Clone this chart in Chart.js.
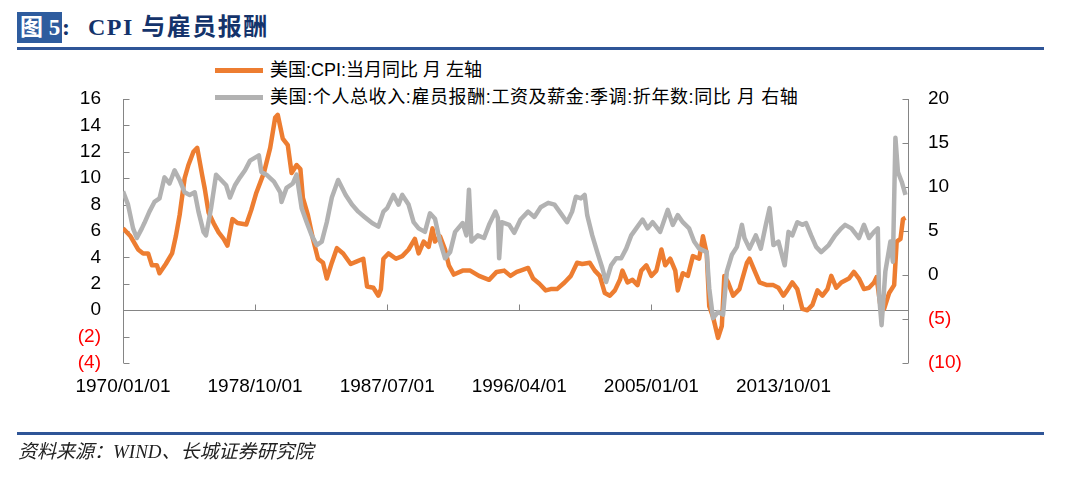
<!DOCTYPE html>
<html>
<head>
<meta charset="utf-8">
<script src="https://cdn.jsdelivr.net/npm/chart.js@4.4.0/dist/chart.umd.min.js"></script>
<style>
  body { margin: 0; background: #fff; width: 1080px; height: 480px; overflow: hidden; position: relative;
         font-family: "Liberation Sans", "Noto Sans CJK SC", sans-serif; }
  #chart { position: absolute; left: 0; top: 0; }
  .rule { position: absolute; left: 17px; width: 1027px; background: #2F5597; }
  .tag { position: absolute; left: 17px; top: 12px; width: 45px; height: 31px; background: #2E5C9E; }
  .title { position: absolute; top: 12px; height: 31px; line-height: 31px; font-family: "Liberation Serif", "Noto Sans CJK SC", serif;
           font-weight: bold; font-size: 24px; white-space: nowrap; }
  .leg-line { position: absolute; left: 215px; width: 48px; height: 5px; }
  .leg-text { position: absolute; left: 270px; font-size: 18px; line-height: 22px; color: #000; white-space: nowrap; }
  .source { position: absolute; left: 18px; top: 436px; font-family: "Liberation Serif", "Noto Sans CJK SC", serif;
            font-style: italic; font-size: 19px; color: #222; white-space: nowrap; }
</style>
</head>
<body>
<div class="tag"></div>
<div class="title" style="left:20px;color:#fff;font-size:23px;">图 5</div>
<div class="title" style="left:62px;color:#14336B;">:</div>
<div class="title" style="left:88px;color:#14336B;letter-spacing:1.5px;">CPI 与雇员报酬</div>
<div class="rule" style="top:47px;height:3px;"></div>

<div class="leg-line" style="top:68px;background:#ED7D31;"></div>
<div class="leg-text" style="top:59px;">美国:CPI:当月同比 月 左轴</div>
<div class="leg-line" style="top:95px;background:#B2B2B2;"></div>
<div class="leg-text" style="top:86px;letter-spacing:0.6px;">美国:个人总收入:雇员报酬:工资及薪金:季调:折年数:同比 月 右轴</div>

<canvas id="chart" width="1080" height="480"></canvas>

<div class="rule" style="top:432px;height:3px;"></div>
<div class="source">资料来源：WIND、长城证券研究院</div>

<script>
// ---- data ----
const cpiLabel = '美国:CPI:当月同比 月 左轴';
const wageLabel = '美国:个人总收入:雇员报酬:工资及薪金:季调:折年数:同比 月 右轴';

const xTickLabels = ['1970/01/01', '1978/10/01', '1987/07/01', '1996/04/01', '2005/01/01', '2013/10/01'];
const leftTicks = [-4, -2, 0, 2, 4, 6, 8, 10, 12, 14, 16];
const rightTicks = [-10, -5, 0, 5, 10, 15, 20];

// CPI yoy, left axis
const cpiDates = [
  '1970-01','1970-07','1971-01','1971-05','1971-09','1971-12','1972-04','1972-06','1972-11','1973-04',
  '1973-07','1973-10','1974-02','1974-05','1974-09','1974-12','1975-04','1975-06','1975-09','1976-01',
  '1976-05','1976-09','1976-12','1977-04','1977-08','1978-03','1978-07','1978-11','1979-05','1979-10',
  '1980-02','1980-04','1980-08','1980-12','1981-03','1981-07','1981-10','1981-12','1982-04','1982-08',
  '1982-12','1983-04','1983-07','1983-11','1984-03','1984-08','1985-02','1985-07','1985-12','1986-03',
  '1986-08','1986-12','1987-02','1987-04','1987-08','1988-02','1988-07','1988-12','1989-05','1989-08',
  '1989-12','1990-04','1990-07','1990-09','1991-01','1991-05','1991-08','1991-12','1992-07','1993-01',
  '1993-08','1994-04','1994-10','1995-04','1995-09','1996-02','1996-05','1996-11','1997-03','1997-08',
  '1998-01','1998-05','1998-10','1999-04','1999-09','2000-02','2000-06','2000-12','2001-04','2001-08',
  '2001-12','2002-04','2002-08','2002-12','2003-02','2003-06','2003-10','2004-02','2004-05','2004-09',
  '2005-01','2005-05','2005-09','2005-12','2006-04','2006-08','2006-10','2007-02','2007-06','2007-10',
  '2008-03','2008-06','2008-09','2008-11','2009-02','2009-06','2009-09','2009-11','2010-02','2010-06',
  '2010-11','2011-05','2011-07','2011-11','2012-03','2012-09','2013-02','2013-06','2013-10','2014-01',
  '2014-05','2014-09','2015-01','2015-05','2015-09','2016-01','2016-05','2016-09','2016-12','2017-04',
  '2017-08','2018-02','2018-06','2018-10','2019-02','2019-06','2019-10','2019-12','2020-03','2020-06',
  '2020-10','2021-02','2021-04','2021-07','2021-09','2021-11'
];
const cpiValues = [
  6.2, 5.6, 4.6, 4.3, 4.3, 3.4, 3.4, 2.8, 3.5, 4.3,
  5.6, 7.2, 10.0, 11.0, 12.0, 12.3, 10.2, 9.2, 7.4, 6.6,
  5.9, 5.4, 4.9, 6.9, 6.6, 6.5, 7.6, 8.9, 10.4, 12.3,
  14.6, 14.8, 13.0, 12.5, 10.4, 11.0, 10.7, 8.5, 7.2, 5.4,
  3.9, 3.6, 2.4, 3.6, 4.7, 4.3, 3.5, 3.7, 3.9, 1.8,
  1.7, 1.1, 1.6, 3.9, 4.3, 3.9, 4.1, 4.6, 5.4, 4.3,
  5.2, 4.8, 6.2, 5.2, 5.6, 4.6, 3.4, 2.7, 3.0, 3.0,
  2.6, 2.3, 2.9, 3.0, 2.6, 2.9, 3.0, 3.2, 2.4, 2.0,
  1.5, 1.6, 1.6, 2.1, 2.6, 3.6, 3.5, 3.6, 3.0, 2.6,
  1.3, 1.1, 1.5, 2.3, 3.0, 2.1, 2.3, 1.9, 3.0, 3.4,
  2.6, 3.0, 4.6, 3.4, 3.9, 3.0, 1.5, 2.8, 2.6, 4.1,
  3.9, 5.6, 4.3, 0.3, -0.5, -2.1, -1.2, 2.6, 2.1, 1.1,
  1.6, 3.6, 3.9, 3.0, 2.1, 1.9, 1.9, 1.7, 1.1, 1.5,
  2.1, 1.6, 0.1, 0.0, 0.4, 1.5, 1.1, 1.6, 2.6, 1.7,
  2.1, 2.4, 2.9, 2.4, 1.6, 1.7, 2.1, 2.5, 0.4, 0.1,
  1.3, 1.9, 5.2, 5.4, 6.9, 7.0
];

// wages & salaries yoy, right axis
const wageDates = [
  '1970-01','1970-05','1970-09','1970-12','1971-04','1971-06','1971-10','1972-02','1972-06','1972-10',
  '1973-02','1973-06','1973-10','1974-02','1974-06','1974-10','1975-01','1975-05','1975-07','1975-11',
  '1976-03','1976-07','1976-11','1977-02','1977-06','1977-10','1978-02','1978-06','1979-01','1979-03',
  '1979-07','1980-01','1980-06','1980-07','1980-11','1981-04','1981-07','1981-11','1982-03','1982-07',
  '1982-11','1983-03','1983-07','1983-11','1984-04','1984-10','1985-03','1985-08','1986-01','1986-07',
  '1986-12','1987-04','1987-07','1987-12','1988-04','1988-07','1988-12','1989-04','1989-08','1990-01',
  '1990-05','1990-09','1991-01','1991-05','1991-09','1992-01','1992-07','1992-10','1992-12','1993-02',
  '1993-07','1993-12','1994-04','1994-09','1994-11','1994-12','1995-02','1995-08','1995-12','1996-05',
  '1996-11','1997-04','1997-09','1998-03','1998-08','1999-01','1999-06','1999-10','2000-01','2000-05',
  '2000-08','2000-10','2001-02','2001-06','2001-10','2002-01','2002-05','2002-09','2003-01','2003-05',
  '2003-09','2004-01','2004-06','2004-10','2005-02','2005-08','2006-02','2006-06','2006-10','2007-02',
  '2007-07','2007-11','2008-03','2008-09','2008-11','2009-02','2009-06','2009-10','2010-01','2010-05',
  '2010-09','2011-01','2011-03','2011-07','2011-12','2012-04','2012-08','2012-11','2013-02','2013-06',
  '2013-11','2014-02','2014-05','2014-09','2015-01','2015-04','2015-08','2015-12','2016-04','2016-10',
  '2017-03','2017-08','2017-11','2018-04','2018-10','2019-02','2019-06','2019-10','2020-01','2020-02',
  '2020-04','2020-07','2020-11','2021-01','2021-03','2021-05','2021-08','2021-11'
];
const wageValues = [
  9.5, 8.0, 5.3, 4.2, 5.3, 5.9, 7.2, 8.3, 8.7, 11.1,
  10.4, 11.9, 10.8, 9.4, 9.1, 9.4, 7.2, 4.9, 4.5, 7.6,
  11.4, 10.8, 10.2, 8.8, 10.2, 11.1, 11.9, 13.0, 13.6, 11.7,
  11.4, 10.6, 9.4, 8.3, 9.9, 10.4, 11.4, 7.6, 6.0, 4.5,
  3.4, 3.8, 6.0, 8.8, 10.8, 9.1, 8.0, 7.2, 6.6, 5.9,
  5.5, 7.2, 7.6, 9.1, 8.0, 9.1, 8.0, 6.0, 5.3, 4.9,
  7.0, 6.4, 3.8, 1.9, 2.6, 4.9, 5.9, 4.5, 9.7, 3.8,
  4.5, 4.2, 5.7, 7.2, 6.5, 1.9, 6.0, 5.7, 4.8, 6.3,
  7.2, 6.6, 7.7, 8.2, 8.0, 7.0, 6.0, 7.2, 8.9, 8.7,
  9.1, 6.8, 4.5, 2.6, 0.8, -0.8, 1.1, 1.9, 1.9, 3.0,
  4.5, 5.3, 6.3, 5.3, 6.0, 4.9, 7.4, 5.7, 6.8, 6.0,
  5.3, 3.8, 3.0, 2.6, -1.5, -4.9, -4.2, -4.5, 0.4, 2.3,
  3.2, 5.7, 4.2, 3.0, 4.5, 3.0, 5.7, 7.6, 3.4, 3.8,
  1.1, 4.9, 4.5, 6.0, 5.7, 5.9, 4.5, 3.2, 2.6, 3.4,
  4.5, 5.3, 5.7, 5.3, 4.2, 5.7, 4.2, 4.9, 5.3, -2.3,
  -5.7, 0.4, 3.8, 1.5, 15.6, 11.7, 10.6, 9.1
];

// ---- helpers ----
// months since 1970-01, used as the x value
function toMonth(s) {
  const parts = s.split(/[-\/]/).map(Number);
  return (parts[0] - 1970) * 12 + (parts[1] - 1);
}
const toPoints = (dates, vals) => dates.map((d, i) => ({ x: toMonth(d), y: vals[i] }));
const fmtNeg = v => (v < 0 ? '(' + (-v) + ')' : String(v));
const negColor = ctx => (ctx.tick && ctx.tick.value < 0 ? '#FF0000' : '#000000');
const tickFont = { family: '"Liberation Sans", Arial, sans-serif', size: 19 };

// axis lines with inward tick marks, zero line for the x axis
const axisLines = {
  id: 'axisLines',
  beforeDatasetsDraw(chart) {
    const { ctx, chartArea: a, scales } = chart;
    const { x, y, y1 } = scales;
    ctx.save();
    ctx.strokeStyle = '#858585';
    ctx.lineWidth = 1;
    ctx.beginPath();
    const lx = Math.round(a.left) + 0.5;
    const rx = Math.round(a.right) + 0.5;
    ctx.moveTo(lx, a.top); ctx.lineTo(lx, a.bottom);
    y.ticks.forEach(t => {
      const py = Math.round(y.getPixelForValue(t.value)) + 0.5;
      ctx.moveTo(lx, py); ctx.lineTo(lx + 6, py);
    });
    ctx.moveTo(rx, a.top); ctx.lineTo(rx, a.bottom);
    y1.ticks.forEach(t => {
      const py = Math.round(y1.getPixelForValue(t.value)) + 0.5;
      ctx.moveTo(rx, py); ctx.lineTo(rx - 6, py);
    });
    const zy = Math.round(y.getPixelForValue(0)) + 0.5;
    ctx.moveTo(lx, zy); ctx.lineTo(rx, zy);
    x.ticks.forEach(t => {
      const px = Math.round(x.getPixelForValue(t.value)) + 0.5;
      ctx.moveTo(px, zy); ctx.lineTo(px, zy - 6);
    });
    ctx.stroke();
    ctx.restore();
  }
};

new Chart(document.getElementById('chart'), {
  type: 'line',
  data: {
    datasets: [
      {
        label: wageLabel,
        data: toPoints(wageDates, wageValues),
        yAxisID: 'y1',
        borderColor: '#B2B2B2',
        borderWidth: 4.5,
        borderJoinStyle: 'round',
        pointRadius: 0,
        tension: 0,
        order: 0
      },
      {
        label: cpiLabel,
        data: toPoints(cpiDates, cpiValues),
        yAxisID: 'y',
        borderColor: '#ED7D31',
        borderWidth: 4.5,
        borderJoinStyle: 'round',
        pointRadius: 0,
        tension: 0,
        order: 1
      }
    ]
  },
  options: {
    responsive: false,
    animation: false,
    layout: { padding: { left: 0, right: 102, top: 99, bottom: 67 } },
    plugins: { legend: { display: false }, tooltip: { enabled: false } },
    scales: {
      x: {
        type: 'linear',
        min: 0,
        max: 624,
        grid: { display: false },
        border: { display: false },
        afterBuildTicks: s => { s.ticks = xTickLabels.map(l => ({ value: toMonth(l) })); },
        afterFit: s => { s.height = 50; },
        ticks: {
          autoSkip: false,
          maxRotation: 0,
          padding: 4,
          color: '#000',
          font: tickFont,
          callback: v => xTickLabels.find(l => toMonth(l) === v) || ''
        }
      },
      y: {
        position: 'left',
        min: leftTicks[0],
        max: leftTicks[leftTicks.length - 1],
        grid: { display: false },
        border: { display: false },
        afterFit: s => { s.width = 123; },
        ticks: { stepSize: 2, padding: 14, font: tickFont, color: negColor, callback: fmtNeg }
      },
      y1: {
        position: 'right',
        min: rightTicks[0],
        max: rightTicks[rightTicks.length - 1],
        grid: { display: false },
        border: { display: false },
        afterFit: s => { s.width = 70; },
        ticks: { stepSize: 5, padding: 12, font: tickFont, color: negColor, callback: fmtNeg }
      }
    }
  },
  plugins: [axisLines]
});
</script>
</body>
</html>
